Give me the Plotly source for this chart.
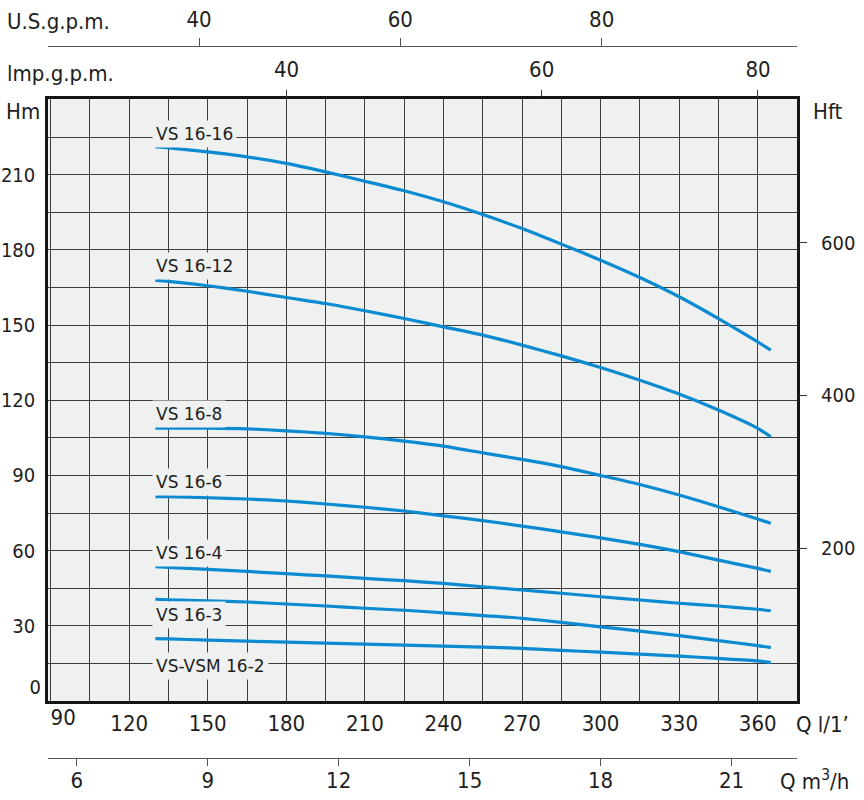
import plotly.graph_objects as go

# flow (l/min) where the curves were read
q_lmin = [130, 135, 150, 165, 180, 195, 210, 225, 240, 255, 270, 285, 300, 315, 330, 345, 360, 365]

# head (m) per pump model
h_16_16 = [221.1, 220.7, 219.1, 217.1, 214.5, 211.1, 207.4, 203.6, 199.2, 194.1, 188.5, 182.3, 175.9, 169.0, 161.3, 152.6, 143.3, 140.0]
h_16_12 = [167.8, 167.4, 165.7, 163.5, 161.0, 158.6, 155.7, 152.6, 149.3, 146.0, 142.0, 137.7, 133.1, 128.0, 122.5, 116.1, 108.8, 105.4]
h_16_8 = [108.9, 108.9, 108.9, 108.6, 107.8, 106.8, 105.4, 103.7, 101.7, 99.0, 96.4, 93.5, 90.0, 86.4, 82.2, 77.5, 72.6, 70.9]
h_16_6 = [81.5, 81.5, 81.1, 80.6, 79.8, 78.6, 77.3, 75.8, 73.9, 72.0, 69.8, 67.5, 65.1, 62.5, 59.6, 56.2, 52.9, 51.7]
h_16_4 = [53.6, 53.3, 52.5, 51.7, 50.8, 49.9, 48.9, 48.0, 46.9, 45.6, 44.3, 43.0, 41.6, 40.3, 39.0, 37.9, 36.6, 36.0]
h_16_3 = [40.6, 40.4, 40.0, 39.5, 38.7, 37.9, 37.0, 36.2, 35.2, 34.1, 33.0, 31.4, 29.6, 27.9, 26.1, 24.1, 22.1, 21.3]
h_16_2 = [24.9, 24.8, 24.3, 23.9, 23.5, 23.1, 22.7, 22.3, 21.9, 21.5, 21.0, 20.2, 19.5, 18.7, 17.9, 17.0, 16.0, 15.3]

models = ["VS 16-16", "VS 16-12", "VS 16-8", "VS 16-6", "VS 16-4", "VS 16-3", "VS-VSM 16-2"]
heads = [h_16_16, h_16_12, h_16_8, h_16_6, h_16_4, h_16_3, h_16_2]
label_head = [226.4, 173.6, 114.4, 87.2, 58.9, 34.3, 14.1]
label_q = 128.6

# axis ticks
q_ticks = [120, 150, 180, 210, 240, 270, 300, 330, 360]
h_ticks = [30, 60, 90, 120, 150, 180, 210]
ft_ticks = [200, 400, 600]
m3_ticks = [6, 9, 12, 15, 18, 21]
us_ticks = [40, 60, 80]
imp_ticks = ["40", "60", "80"]
imp_tick_lmin = [180.1, 277.5, 360.1]  # where the chart prints them

x_range = [89.0, 375.0]
y_range = [0, 240.4]
us_range = [25.0, 99.4]

W, H = 864, 800
ML, MT = 48, 46
MR, MB = 864 - 797, 800 - 758
BLUE = "#0a8ad0"
GRID = "#3c3c3c"
BG = "#eff0f0"
TXT = "#1e1e1e"
NUM_FONT = dict(family="DejaVu Sans Condensed, sans-serif", size=22, color=TXT)
Y_FONT = dict(family="DejaVu Sans Condensed, sans-serif", size=20, color=TXT)


def px(x):
    return (x - ML) / (W - ML - MR)


def py(y):
    return (H - MB - y) / (H - MT - MB)


fig = go.Figure()
for name, h in zip(models, heads):
    fig.add_trace(go.Scatter(x=q_lmin, y=h, mode="lines", name=name,
                             line=dict(color=BLUE, width=3.2, shape="spline", smoothing=0.6)))

for name, y in zip(models, label_head):
    fig.add_annotation(x=label_q, y=y, xref="x", yref="y", text=name, showarrow=False,
                       xanchor="left", yanchor="middle", bgcolor=BG, borderpad=3,
                       font=dict(family="DejaVu Sans", size=17, color=TXT))

titles = [
    ("U.S.g.p.m.", 5, 21),
    ("lmp.g.p.m.", 5, 74),
    ("Hm", 4, 111),
    ("Hft", 811, 111),
    ("Q l/1’", 794, 724),
    ("Q m<sup>3</sup>/h", 778, 780),
]
for t, x, y in titles:
    fig.add_annotation(x=px(x), y=py(y), xref="paper", yref="paper", text=t, showarrow=False,
                       xanchor="left", yanchor="middle", font=NUM_FONT)

dom = [py(701), py(98.5)]
axis_common = dict(showgrid=False, zeroline=False, tickfont=NUM_FONT, automargin=False)
yaxis_common = dict(showgrid=False, zeroline=False, tickfont=Y_FONT, automargin=False)

fig.update_layout(
    width=W, height=H,
    margin=dict(l=ML, r=MR, t=MT, b=MB, autoexpand=False),
    paper_bgcolor="white", plot_bgcolor=BG,
    showlegend=False,
    xaxis=dict(range=x_range, tickvals=q_ticks, showgrid=True, gridcolor=GRID, gridwidth=1.2,
               minor=dict(tick0=90, dtick=15, showgrid=True, gridcolor=GRID, gridwidth=1.2),
               showline=True, mirror=True, linecolor="#151515", linewidth=2.5,
               ticks="", ticklabelstandoff=1, zeroline=False, tickfont=NUM_FONT, automargin=False),
    yaxis=dict(range=y_range, domain=dom, tickvals=h_ticks, showgrid=True, gridcolor=GRID, gridwidth=1.2,
               minor=dict(tick0=0, dtick=15, showgrid=True, gridcolor=GRID, gridwidth=1.2),
               showline=True, mirror=True, linecolor="#151515", linewidth=2.5,
               ticks="", ticklabelstandoff=6, zeroline=False, tickfont=Y_FONT, automargin=False),
    yaxis2=dict(range=[v / 0.3048 for v in y_range], overlaying="y", side="right", anchor="x",
                tickvals=ft_ticks, ticks="outside", ticklen=9, tickwidth=1.3, tickcolor="#333",
                ticklabelstandoff=10, **yaxis_common),
    yaxis3=dict(range=y_range, overlaying="y", side="left", anchor="x", tickvals=[0],
                ticklabelposition="outside top", ticks="", ticklabelstandoff=6, **yaxis_common),
    xaxis2=dict(range=x_range, overlaying="x", side="top", anchor="y", tickvals=imp_tick_lmin,
                ticktext=imp_ticks, ticks="outside", ticklen=8, tickwidth=1.3, tickcolor="#333",
                ticklabelstandoff=4, **axis_common),
    xaxis3=dict(range=us_range, overlaying="x", side="top", anchor="free", position=1,
                tickvals=us_ticks, ticks="outside", ticklen=8, tickwidth=1.3, tickcolor="#555",
                showline=True, linecolor="#555", linewidth=1.3, ticklabelstandoff=2, **axis_common),
    xaxis4=dict(range=[v * 0.06 for v in x_range], overlaying="x", side="bottom", anchor="free",
                position=0, tickvals=m3_ticks, ticks="outside", ticklen=7, tickwidth=1.3,
                tickcolor="#555", showline=True, linecolor="#555", linewidth=1.3,
                ticklabelstandoff=-5, **axis_common),
    xaxis5=dict(range=x_range, overlaying="x", side="bottom", anchor="y", tickvals=[90],
                ticklabelposition="outside right", ticks="", ticklabelstandoff=1, **axis_common),
)

# empty traces so every helper axis is drawn
for xa, ya in [("x2", "y"), ("x3", "y"), ("x4", "y"), ("x5", "y"), ("x", "y2"), ("x", "y3")]:
    fig.add_trace(go.Scatter(x=[None], y=[None], xaxis=xa, yaxis=ya, hoverinfo="skip"))

# drop the browser's default 8px body margin so the figure sits at the page corner
fig.write_html("out.html", config={"displayModeBar": False},
               post_script="document.body.style.margin = '0';")
